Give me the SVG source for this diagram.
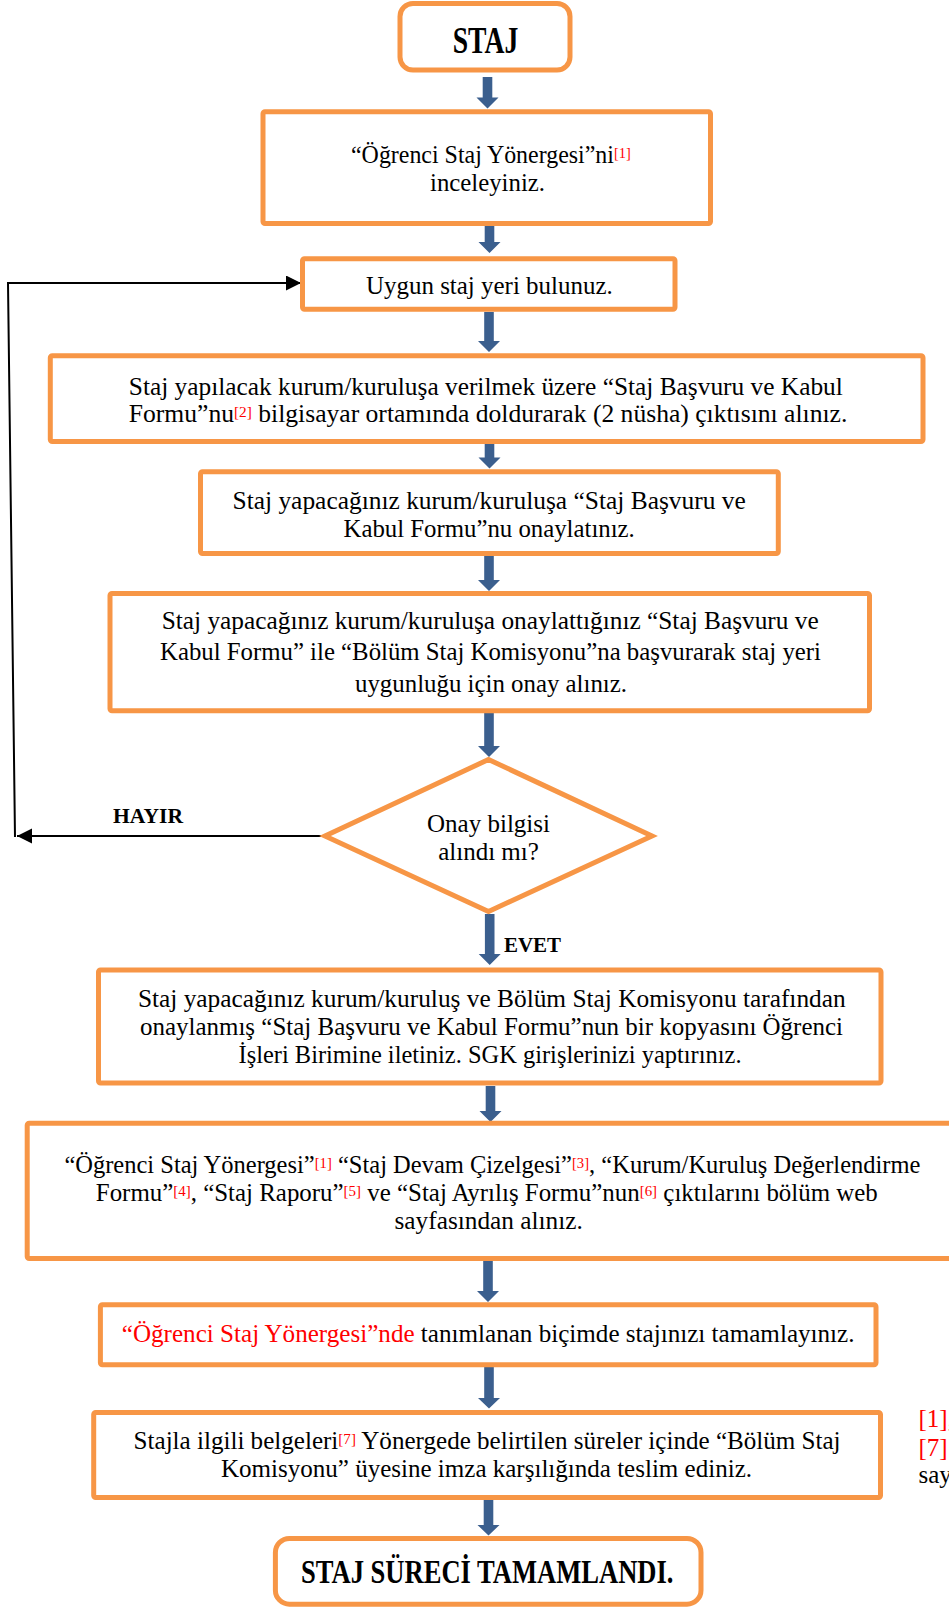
<svg xmlns="http://www.w3.org/2000/svg" width="949" height="1608" viewBox="0 0 949 1608">
<style>
.box{fill:#fff;stroke:#F79646;stroke-width:5}
.t{font-family:"Liberation Serif","Times New Roman",serif;font-size:25px;fill:#000}
.b{font-family:"Liberation Serif","Times New Roman",serif;font-weight:bold;fill:#000}
.sup{font-size:15px;fill:#FF0000}
.red{fill:#FF0000}
.barrow{fill:#3B5F8E}
.line{fill:none;stroke:#000;stroke-width:2}
</style>
<defs>
<marker id="ah" markerUnits="userSpaceOnUse" markerWidth="16" markerHeight="16" refX="15" refY="7.5" orient="auto">
<path d="M0,0 L15,7.5 L0,15 z" fill="#000"/>
</marker>
</defs>
<rect width="949" height="1608" fill="#fff"/>

<g id="connectors">
<polygon class="barrow" points="482.7,77 492.3,77 492.3,97.5 498.5,97.5 487.5,108.5 476.5,97.5 482.7,97.5"/>
<polygon class="barrow" points="484.7,224 494.3,224 494.3,242 500.5,242 489.5,253 478.5,242 484.7,242"/>
<polygon class="barrow" points="484.2,312 493.8,312 493.8,341 500,341 489,352 478,341 484.2,341"/>
<polygon class="barrow" points="484.7,444 494.3,444 494.3,457.5 500.5,457.5 489.5,468.5 478.5,457.5 484.7,457.5"/>
<polygon class="barrow" points="484.2,556 493.8,556 493.8,580 500,580 489,591 478,580 484.2,580"/>
<polygon class="barrow" points="484.2,713 493.8,713 493.8,746 500,746 489,757 478,746 484.2,746"/>
<polygon class="barrow" points="484.9,914 494.5,914 494.5,954 500.7,954 489.7,965 478.7,954 484.9,954"/>
<polygon class="barrow" points="485.7,1086 495.3,1086 495.3,1111 501.5,1111 490.5,1122 479.5,1111 485.7,1111"/>
<polygon class="barrow" points="483.2,1261 492.8,1261 492.8,1291 499,1291 488,1302 477,1291 483.2,1291"/>
<polygon class="barrow" points="484.2,1367 493.8,1367 493.8,1398 500,1398 489,1408.5 478,1398 484.2,1398"/>
<polygon class="barrow" points="483.7,1500 493.3,1500 493.3,1525 499.5,1525 488.5,1535.5 477.5,1525 483.7,1525"/>
<path class="line" d="M322,836 H17" marker-end="url(#ah)"/>
<path class="line" d="M15,837 L8,283 H301" marker-end="url(#ah)"/>
<text class="b" x="113" y="822.7" font-size="22" textLength="70" lengthAdjust="spacingAndGlyphs">HAYIR</text>
<text class="b" x="504" y="951.7" font-size="21" textLength="57" lengthAdjust="spacingAndGlyphs">EVET</text>
</g>

<g id="n-start">
<rect class="box" x="400" y="3.5" width="170" height="66.5" rx="13"/>
<text class="b" x="452.7" y="53.3" font-size="38" textLength="65.6" lengthAdjust="spacingAndGlyphs">STAJ</text>
</g>

<g id="n-yonerge">
<rect class="box" x="263" y="111.8" width="447.5" height="111.7" rx="2"/>
<text class="t" x="351" y="162.7" textLength="279.7" lengthAdjust="spacingAndGlyphs">“Öğrenci Staj Yönergesi”ni<tspan class="sup" dy="-5">[1]</tspan></text>
<text class="t" x="430" y="190.7" textLength="115" lengthAdjust="spacingAndGlyphs">inceleyiniz.</text>
</g>

<g id="n-yer">
<rect class="box" x="302.5" y="258.7" width="372.5" height="50.5" rx="2"/>
<text class="t" x="366" y="294" textLength="246.7" lengthAdjust="spacingAndGlyphs">Uygun staj yeri bulunuz.</text>
</g>

<g id="n-form">
<rect class="box" x="50.3" y="355.8" width="872.7" height="85.7" rx="2"/>
<text class="t" x="128.8" y="394.5" textLength="714" lengthAdjust="spacingAndGlyphs">Staj yapılacak kurum/kuruluşa verilmek üzere “Staj Başvuru ve Kabul</text>
<text class="t" x="128.8" y="421.7" textLength="718.5" lengthAdjust="spacingAndGlyphs">Formu”nu<tspan class="sup" dy="-5">[2]</tspan><tspan dy="5"> bilgisayar ortamında doldurarak (2 nüsha) çıktısını alınız.</tspan></text>
</g>

<g id="n-onaylat">
<rect class="box" x="200.5" y="471.8" width="577.8" height="81.7" rx="2"/>
<text class="t" x="232.5" y="509" textLength="513.3" lengthAdjust="spacingAndGlyphs">Staj yapacağınız kurum/kuruluşa “Staj Başvuru ve</text>
<text class="t" x="343.5" y="536.7" textLength="291.3" lengthAdjust="spacingAndGlyphs">Kabul Formu”nu onaylatınız.</text>
</g>

<g id="n-komisyon">
<rect class="box" x="110" y="593.5" width="759.5" height="117.3" rx="2"/>
<text class="t" x="161.7" y="629" textLength="657" lengthAdjust="spacingAndGlyphs">Staj yapacağınız kurum/kuruluşa onaylattığınız “Staj Başvuru ve</text>
<text class="t" x="160" y="660" textLength="661" lengthAdjust="spacingAndGlyphs">Kabul Formu” ile “Bölüm Staj Komisyonu”na başvurarak staj yeri</text>
<text class="t" x="355" y="692" textLength="272" lengthAdjust="spacingAndGlyphs">uygunluğu için onay alınız.</text>
</g>

<g id="n-karar">
<polygon class="box" points="488.5,759.5 652,836 488.5,911.5 325,836"/>
<text class="t" x="488.5" y="831.7" text-anchor="middle">Onay bilgisi</text>
<text class="t" x="488.5" y="860" text-anchor="middle">alındı mı?</text>
</g>

<g id="n-sgk">
<rect class="box" x="98.5" y="970" width="782.5" height="113" rx="2"/>
<text class="t" x="137.9" y="1006.5" textLength="707.8" lengthAdjust="spacingAndGlyphs">Staj yapacağınız kurum/kuruluş ve Bölüm Staj Komisyonu tarafından</text>
<text class="t" x="140" y="1034.5" textLength="703" lengthAdjust="spacingAndGlyphs">onaylanmış “Staj Başvuru ve Kabul Formu”nun bir kopyasını Öğrenci</text>
<text class="t" x="238.5" y="1063" textLength="503" lengthAdjust="spacingAndGlyphs">İşleri Birimine iletiniz. SGK girişlerinizi yaptırınız.</text>
</g>

<g id="n-belgeler">
<rect class="box" x="27.2" y="1123.2" width="930" height="135.3" rx="2"/>
<text class="t" x="64.4" y="1173" textLength="856" lengthAdjust="spacingAndGlyphs">“Öğrenci Staj Yönergesi”<tspan class="sup" dy="-5">[1]</tspan><tspan dy="5"> “Staj Devam Çizelgesi”</tspan><tspan class="sup" dy="-5">[3]</tspan><tspan dy="5">, “Kurum/Kuruluş Değerlendirme</tspan></text>
<text class="t" x="95.8" y="1201" textLength="782" lengthAdjust="spacingAndGlyphs">Formu”<tspan class="sup" dy="-5">[4]</tspan><tspan dy="5">, “Staj Raporu”</tspan><tspan class="sup" dy="-5">[5]</tspan><tspan dy="5"> ve “Staj Ayrılış Formu”nun</tspan><tspan class="sup" dy="-5">[6]</tspan><tspan dy="5"> çıktılarını bölüm web</tspan></text>
<text class="t" x="394.5" y="1229" textLength="188.3" lengthAdjust="spacingAndGlyphs">sayfasından alınız.</text>
</g>

<g id="n-tamamla">
<rect class="box" x="100.4" y="1304.8" width="775.6" height="60" rx="2"/>
<text class="t" x="121.8" y="1342.3" textLength="732.7" lengthAdjust="spacingAndGlyphs"><tspan class="red">“Öğrenci Staj Yönergesi”nde</tspan> tanımlanan biçimde stajınızı tamamlayınız.</text>
</g>

<g id="n-teslim">
<rect class="box" x="93.7" y="1412.5" width="786.8" height="85" rx="2"/>
<text class="t" x="133.6" y="1448.5" textLength="707" lengthAdjust="spacingAndGlyphs">Stajla ilgili belgeleri<tspan class="sup" dy="-5">[7]</tspan><tspan dy="5"> Yönergede belirtilen süreler içinde “Bölüm Staj</tspan></text>
<text class="t" x="221" y="1477" textLength="531" lengthAdjust="spacingAndGlyphs">Komisyonu” üyesine imza karşılığında teslim ediniz.</text>
</g>

<g id="note">
<text class="t" x="918.5" y="1427" font-size="22"><tspan class="red">[1]</tspan>,</text>
<text class="t" x="918.5" y="1456" font-size="22"><tspan class="red">[7]</tspan>’</text>
<text class="t" x="918.5" y="1482.5" font-size="22">say</text>
</g>

<g id="n-end">
<rect class="box" x="275.4" y="1538.5" width="425.6" height="65.7" rx="14"/>
<text class="b" x="301" y="1583" font-size="34" textLength="372.5" lengthAdjust="spacingAndGlyphs">STAJ SÜRECİ TAMAMLANDI.</text>
</g>
</svg>
